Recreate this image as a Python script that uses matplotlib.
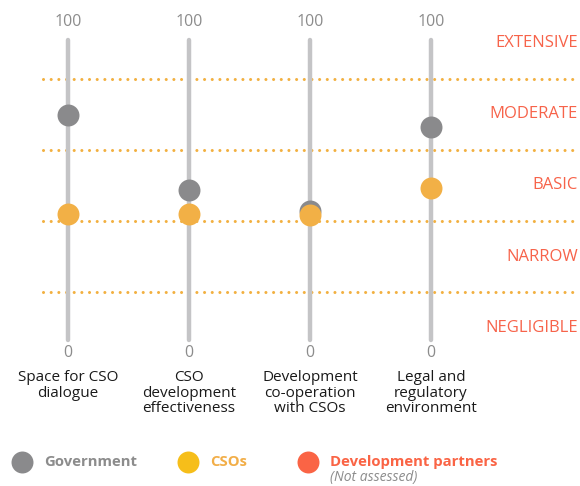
import matplotlib.pyplot as plt
import numpy as np

plt.rcParams["font.family"] = ["Open Sans", "DejaVu Sans"]

categories = [
    "Space for CSO\ndialogue",
    "CSO\ndevelopment\neffectiveness",
    "Development\nco-operation\nwith CSOs",
    "Legal and\nregulatory\nenvironment",
]
government = [75, 50, 43, 71]
csos = [42, 42, 41.5, 50.5]
zones = ["EXTENSIVE", "MODERATE", "BASIC", "NARROW", "NEGLIGIBLE"]
legend_labels = ["Government", "CSOs", "Development partners"]

GRAY_DOT = "#8a8a8c"
ORANGE_DOT = "#f2b046"
LINE_GRAY = "#c4c4c6"
DOT_LINE = "#f2b040"
ZONE_RED = "#f7634a"

# band edges (dotted lines) sit on their own grid, not on the 0-100 slider scale
band_edges = np.linspace(110.7, -7.7, 6)

fig = plt.figure(figsize=(5.8, 4.86), dpi=100)
ax = fig.add_axes([0, 0, 1, 1])
ax.set_xlim(-0.562, 4.231)
ax.set_ylim(-48.67, 113.33)
ax.axis("off")

x = np.arange(len(categories))
px = 1 / 121  # one pixel in x data units

for edge in band_edges[1:-1]:
    ax.plot([-0.562 + 43 * px, 4.231 - 3 * px], [edge, edge], color=DOT_LINE,
            lw=2.2, linestyle=(0, (0.01, 2.5)), dash_capstyle="round", zorder=1)

for i, label in enumerate(categories):
    ax.plot([i, i], [0, 100], color=LINE_GRAY, lw=3.2,
            solid_capstyle="round", zorder=2)
    ax.text(i, 106, "100", ha="center", va="center", fontsize=11.5, color="#8c8c8c")
    ax.text(i, -4.3, "0", ha="center", va="center", fontsize=11.5, color="#8c8c8c")
    ax.text(i, -10.0, label, ha="center", va="top", fontsize=11,
            color="#1a1a1a", linespacing=1.05)

ax.scatter(x, government, s=250, color=GRAY_DOT, zorder=3, linewidths=0)
ax.scatter(x, csos, s=250, color=ORANGE_DOT, zorder=4, linewidths=0)

mids = (band_edges[:-1] + band_edges[1:]) / 2
for zone, y in zip(zones, mids):
    ax.text(4.231 - 2 * px, y, zone, ha="right", va="center",
            fontsize=12, color=ZONE_RED)

# legend
leg_y = -40.7
leg_x = [22, 188, 308]
leg_colors = [GRAY_DOT, "#f6be1a", "#fa6445"]
text_colors = ["#8c8c8c", "#f2ae48", "#fa6445"]
for lx, lab, dc, tc in zip(leg_x, legend_labels, leg_colors, text_colors):
    xd = -0.562 + lx * px
    ax.scatter([xd], [leg_y], s=250, color=dc, linewidths=0, clip_on=False)
    ax.text(xd + 22 * px, leg_y, lab, ha="left", va="center", fontsize=10.7,
            fontweight="bold", color=tc)
ax.text(-0.562 + 330 * px, -46.0, "(Not assessed)", ha="left", va="center",
        fontsize=10, fontstyle="italic", color="#8c8c8c")

fig.savefig("out.png", dpi=100)
